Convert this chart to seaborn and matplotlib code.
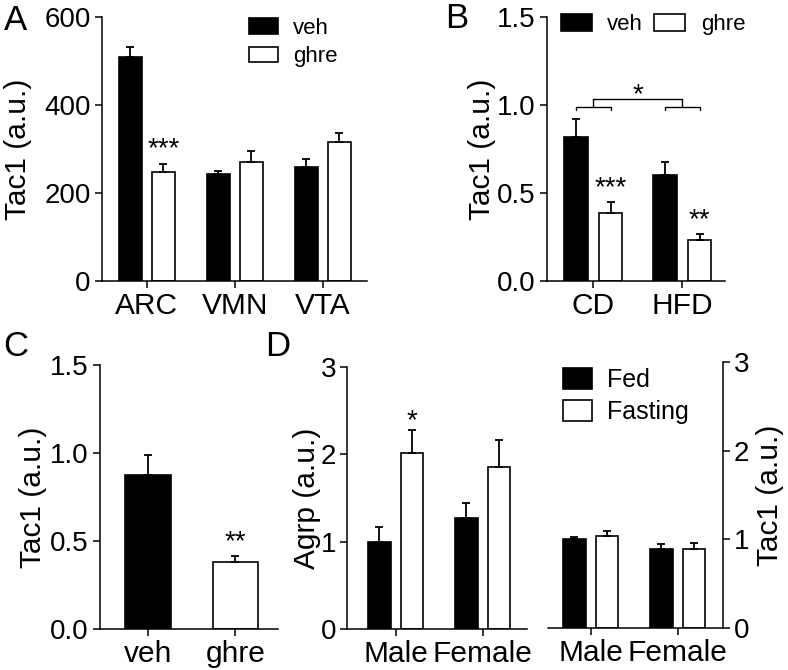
"""
Tac1 / Agrp expression panels (A-D), redrawn with seaborn bar plots.
"""

import numpy as np
import pandas as pd
import seaborn as sns
import matplotlib.pyplot as plt

# Panel A: Tac1 by brain region, vehicle vs ghrelin
A_regions = ['ARC', 'VMN', 'VTA']
A_veh = [509, 243, 260]
A_veh_sem = [23, 7, 18]
A_ghre = [248, 270, 315]
A_ghre_sem = [18, 25, 21]

# Panel B: Tac1 by diet
B_diets = ['CD', 'HFD']
B_veh = [0.82, 0.60]
B_veh_sem = [0.10, 0.075]
B_ghre = [0.385, 0.233]
B_ghre_sem = [0.063, 0.035]

# Panel C: Tac1, single comparison
C_groups = ['veh', 'ghre']
C_vals = [0.875, 0.38]
C_sem = [0.115, 0.035]

# Panel D: Agrp (left) and Tac1 (right) by sex, fed vs fasting
D_sex = ['Male', 'Female']
D_agrp_fed = [1.0, 1.27]
D_agrp_fed_sem = [0.17, 0.17]
D_agrp_fast = [2.015, 1.855]
D_agrp_fast_sem = [0.26, 0.31]
D_tac_fed = [1.0, 0.89]
D_tac_fed_sem = [0.03, 0.055]
D_tac_fast = [1.04, 0.89]
D_tac_fast_sem = [0.055, 0.065]

YTICK_FS = 20
XTICK_FS = 21.5
LABEL_FS = 21.5
STAR_FS = 20
BW = dict(edgecolor='black', linewidth=1.2, errorbar=None)


def long_df(cats, names, series):
    rows = []
    for name, vals in zip(names, series):
        for c, v in zip(cats, vals):
            rows.append({'cat': c, 'group': name, 'value': v})
    return pd.DataFrame(rows)


def add_err(ax, sems_by_hue):
    for cont, sems in zip(ax.containers, sems_by_hue):
        xs = [b.get_x() + b.get_width() / 2 for b in cont]
        ys = [b.get_height() for b in cont]
        ax.errorbar(xs, ys, yerr=[np.zeros(len(sems)), sems], fmt='none',
                    ecolor='black', elinewidth=1.3, capsize=3, capthick=1.3, zorder=3)


def star(ax, hue_i, cat_i, sem, text, off):
    bar = ax.containers[hue_i][cat_i]
    ax.text(bar.get_x() + bar.get_width() / 2, bar.get_height() + sem + off, text,
            ha='center', va='bottom', fontsize=STAR_FS)


def style(ax, ylabel, ylim, yticks, fmt=None, right=False):
    ax.set_ylim(*ylim)
    ax.set_yticks(yticks)
    if fmt:
        ax.set_yticklabels([fmt.format(t) for t in yticks])
    ax.set_xlabel('')
    ax.set_ylabel(ylabel, fontsize=LABEL_FS)
    ax.tick_params(axis='both', length=5, width=1.1, pad=3)
    ax.tick_params(axis='y', labelsize=YTICK_FS)
    ax.tick_params(axis='x', labelsize=XTICK_FS)
    if right:
        sns.despine(ax=ax, left=True, right=False)
        ax.yaxis.tick_right()
        ax.yaxis.set_label_position('right')
    else:
        sns.despine(ax=ax)


def main():
    sns.set_theme(style='ticks')
    plt.rcParams['font.family'] = ['Liberation Sans', 'DejaVu Sans']
    plt.rcParams.update({
        'axes.linewidth': 1.1,
        'text.color': 'black',
        'axes.labelcolor': 'black',
        'axes.edgecolor': 'black',
        'xtick.color': 'black',
        'ytick.color': 'black',
    })

    fig = plt.figure(figsize=(7.88, 6.70), dpi=100)
    axA = fig.add_axes([0.1294, 0.5806, 0.3363, 0.394])
    axB = fig.add_axes([0.6942, 0.5806, 0.2259, 0.394])
    axC = fig.add_axes([0.1269, 0.0612, 0.2259, 0.394])
    axD1 = fig.add_axes([0.4404, 0.0612, 0.2284, 0.391])
    axD2 = fig.add_axes([0.6954, 0.0627, 0.2220, 0.3970])

    pal2 = {'veh': 'black', 'ghre': 'white'}
    palD = {'Fed': 'black', 'Fasting': 'white'}

    # ---- A
    dfA = long_df(A_regions, ['veh', 'ghre'], [A_veh, A_ghre])
    sns.barplot(data=dfA, x='cat', y='value', hue='group', palette=pal2,
                width=0.75, gap=0.3, ax=axA, **BW)
    add_err(axA, [A_veh_sem, A_ghre_sem])
    star(axA, 1, 0, A_ghre_sem[0], '***', 3)
    axA.set_xlim(-0.51, 2.5)
    style(axA, 'Tac1 (a.u.)', (0, 600), [0, 200, 400, 600])
    h, l = axA.get_legend_handles_labels()
    axA.legend(h, l, loc='upper left', bbox_to_anchor=(0.52, 1.03), frameon=False,
               fontsize=16, handlelength=1.3, handleheight=0.7, labelspacing=0.33,
               handletextpad=0.7, borderaxespad=0)

    # ---- B
    dfB = long_df(B_diets, ['veh', 'ghre'], [B_veh, B_ghre])
    sns.barplot(data=dfB, x='cat', y='value', hue='group', palette=pal2,
                width=0.78, gap=0.33, ax=axB, **BW)
    add_err(axB, [B_veh_sem, B_ghre_sem])
    star(axB, 1, 0, B_ghre_sem[0], '***', 0.005)
    star(axB, 1, 1, B_ghre_sem[1], '**', 0.005)
    axB.set_xlim(-0.52, 1.48)
    style(axB, 'Tac1 (a.u.)', (0, 1.5), [0, 0.5, 1.0, 1.5], fmt='{:.1f}')
    # significance brackets: pair brackets plus diet bracket
    y_small, drop, y_big = 0.99, 0.02, 1.035
    mids = []
    for i in range(len(B_diets)):
        b0 = axB.containers[0][i]
        b1 = axB.containers[1][i]
        x0 = b0.get_x() + b0.get_width() / 2
        x1 = b1.get_x() + b1.get_width() / 2
        axB.plot([x0, x0, x1, x1], [y_small - drop, y_small, y_small, y_small - drop],
                 color='black', lw=1.0)
        mids.append((x0 + x1) / 2)
    axB.plot([mids[0], mids[0], mids[1], mids[1]], [y_small, y_big, y_big, y_small],
             color='black', lw=1.0)
    axB.text(np.mean(mids), y_big - 0.055, '*', ha='center', va='bottom', fontsize=STAR_FS)
    h, l = axB.get_legend_handles_labels()
    axB.legend(h, l, loc='upper left', bbox_to_anchor=(0.026, 1.045), ncol=2, frameon=False,
               fontsize=16, handlelength=1.4, handleheight=0.8, columnspacing=0.5,
               handletextpad=0.7, borderaxespad=0)

    # ---- C
    dfC = pd.DataFrame({'cat': C_groups, 'value': C_vals})
    sns.barplot(data=dfC, x='cat', y='value', hue='cat', palette=pal2,
                width=0.52, legend=False, ax=axC, **BW)
    add_err(axC, [[s] for s in C_sem])
    star(axC, 1, 0, C_sem[1], '**', 0.005)
    axC.set_xlim(-0.55, 1.49)
    style(axC, 'Tac1 (a.u.)', (0, 1.5), [0, 0.5, 1.0, 1.5], fmt='{:.1f}')

    # ---- D left: Agrp
    dfD1 = long_df(D_sex, ['Fed', 'Fasting'], [D_agrp_fed, D_agrp_fast])
    sns.barplot(data=dfD1, x='cat', y='value', hue='group', palette=palD,
                width=0.75, gap=0.3, legend=False, ax=axD1, **BW)
    add_err(axD1, [D_agrp_fed_sem, D_agrp_fast_sem])
    star(axD1, 1, 0, D_agrp_fast_sem[0], '*', -0.05)
    axD1.set_xlim(-0.56, 1.51)
    style(axD1, 'Agrp (a.u.)', (0, 3), [0, 1, 2, 3])

    # ---- D right: Tac1
    dfD2 = long_df(D_sex, ['Fed', 'Fasting'], [D_tac_fed, D_tac_fast])
    sns.barplot(data=dfD2, x='cat', y='value', hue='group', palette=palD,
                width=0.75, gap=0.3, ax=axD2, **BW)
    add_err(axD2, [D_tac_fed_sem, D_tac_fast_sem])
    axD2.set_xlim(-0.49, 1.52)
    style(axD2, 'Tac1 (a.u.)', (0, 3), [0, 1, 2, 3], right=True)
    h, l = axD2.get_legend_handles_labels()
    axD2.legend(h, l, loc='upper left', bbox_to_anchor=(0.031, 1.014), frameon=False,
                fontsize=18, handlelength=1.15, handleheight=0.9, labelspacing=0.3,
                handletextpad=0.6, borderaxespad=0)

    # label positions (axes coordinates)
    axA.yaxis.set_label_coords(-0.264, 0.5)
    axB.yaxis.set_label_coords(-0.287, 0.5)
    axC.yaxis.set_label_coords(-0.298, 0.5)
    axD1.yaxis.set_label_coords(-0.144, 0.5)
    axD2.yaxis.set_label_coords(1.19, 0.5)

    # panel letters
    for s, x, y in [('A', 16, 20), ('B', 457, 18), ('C', 16, 347), ('D', 278, 347)]:
        fig.text(x / 788, 1 - y / 670, s, fontsize=25, ha='center', va='center')

    fig.savefig('out.png', dpi=100)


if __name__ == "__main__":
    main()
